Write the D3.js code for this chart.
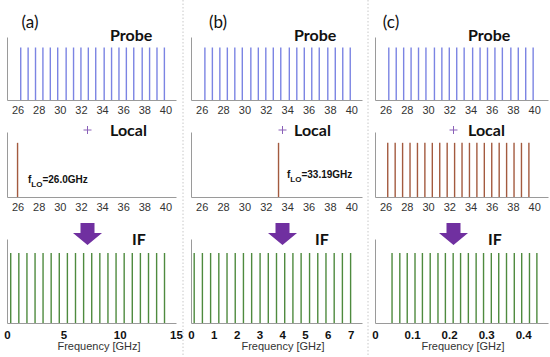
<!DOCTYPE html>
<html>
<head>
<meta charset="utf-8">
<script src="https://cdn.jsdelivr.net/npm/d3@7"></script>
<style>
  body { margin: 0; background: #fff; }
  svg { display: block; }
  .tick text { font-family: "Liberation Sans", Arial, sans-serif; }
</style>
</head>
<body>
<div id="chart"></div>
<script>
// tone frequencies (GHz)
const probeFreqs = [26.3, 27.0, 27.7, 28.4, 29.1, 29.8, 30.6, 31.3, 32.0, 32.7,
                    33.4, 34.2, 34.9, 35.6, 36.3, 37.0, 37.8, 38.5, 39.2, 39.9];
const localA = [26.0];
const localB = [33.19];
const localC = [26.2, 26.9, 27.6, 28.3, 29.0, 29.7, 30.4, 31.1, 31.8, 32.5,
                33.2, 33.9, 34.6, 35.3, 36.0, 36.7, 37.4, 38.1, 38.8, 39.5];
const ifA = [0.33, 1.05, 1.77, 2.49, 3.2, 3.92, 4.64, 5.36, 6.08, 6.8,
             7.52, 8.24, 8.96, 9.68, 10.4, 11.12, 11.84, 12.56, 13.28, 13.98];
const ifB = [0.14, 0.5, 0.86, 1.22, 1.58, 1.94, 2.3, 2.66, 3.03, 3.39,
             3.75, 4.11, 4.47, 4.83, 5.2, 5.56, 5.92, 6.28, 6.64, 7.0];
const ifC = [0.046, 0.067, 0.087, 0.108, 0.128, 0.149, 0.17, 0.19, 0.211, 0.231,
             0.252, 0.273, 0.293, 0.314, 0.334, 0.355, 0.376, 0.396, 0.417, 0.437];
const rfTicks = [26, 28, 30, 32, 34, 36, 38, 40];
const ifTicksA = [0, 5, 10, 15];
const ifTicksB = [0, 1, 2, 3, 4, 5, 6, 7];
const ifTicksC = [0, 0.1, 0.2, 0.3, 0.4];
const panelLabels = ["(a)", "(b)", "(c)"];
const loLabels = ["26.0GHz", "33.19GHz", null];

const width = 550, height = 357;
const probeColor = "#7b84e3", localColor = "#a35a3f", ifColor = "#4e8a3e";
const purple = "#7030a0";

var svg = d3.select("#chart").append("svg")
  .attr("width", width).attr("height", height);

// column geometry
var cols = [
  { x0: 7,   x1: 176, rf: [25, 41],   ifDom: [0, 15],    ifTicks: ifTicksA, ifData: ifA, local: localA, mid: 87.5,  letterX: 30 },
  { x0: 191, x1: 362, rf: [25, 41],   ifDom: [0, 7.5],   ifTicks: ifTicksB, ifData: ifB, local: localB, mid: 282.5, letterX: 218 },
  { x0: 375, x1: 548, rf: [25, 41.3], ifDom: [0, 0.467], ifTicks: ifTicksC, ifData: ifC, local: localC, mid: 453.5, letterX: 391 }
];

// rows: axis top / baseline
var rows = {
  probe: { top: 37, base: 100 },
  local: { top: 132, base: 197 },
  ifr:   { top: 239, base: 323 }
};

// dotted separators
[183, 368].forEach(function (sx) {
  svg.append("line")
    .attr("x1", sx).attr("x2", sx).attr("y1", 0).attr("y2", height)
    .attr("stroke", "#c8c8c8").attr("stroke-dasharray", "1.5,2");
});

function drawPlot(col, row, x, data, color, ticks, bold, fmt) {
  var y = d3.scaleLinear().domain([0, 1.2]).range([row.base, row.top]);
  var g = svg.append("g");

  var xAxis = g.append("g")
    .attr("transform", "translate(0," + row.base + ")")
    .call(d3.axisBottom(x).tickValues(ticks).tickSize(0).tickPadding(bold ? 8 : 6).tickFormat(fmt));
  xAxis.select(".domain").attr("stroke", "#9a9a9a");
  xAxis.selectAll("text")
    .attr("font-size", bold ? 11.5 : 11)
    .attr("font-weight", bold ? "bold" : "normal")
    .attr("fill", bold ? "#111" : "#333");

  var yAxis = g.append("g")
    .attr("transform", "translate(" + col.x0 + ",0)")
    .call(d3.axisLeft(y).tickValues([]).tickSizeOuter(0));
  yAxis.select(".domain").attr("stroke", "#9a9a9a");

  g.selectAll("line.tone")
    .data(data)
    .enter()
    .append("line")
    .attr("class", "tone")
    .attr("x1", function (d) { return x(d); })
    .attr("x2", function (d) { return x(d); })
    .attr("y1", y(0))
    .attr("y2", y(1))
    .attr("stroke", color)
    .attr("stroke-width", 1.4);
}

function boldLabel(txt, x, yb) {
  svg.append("text")
    .attr("x", x).attr("y", yb)
    .attr("font-family", "Lato, 'Open Sans', sans-serif")
    .attr("font-weight", "bold")
    .attr("font-size", 16)
    .attr("fill", "#111")
    .text(txt);
}

cols.forEach(function (col, i) {
  var rfX = d3.scaleLinear().domain(col.rf).range([col.x0, col.x1]);
  var ifX = d3.scaleLinear().domain(col.ifDom).range([col.x0, col.x1]);

  drawPlot(col, rows.probe, rfX, probeFreqs, probeColor, rfTicks, false, d3.format("d"));
  drawPlot(col, rows.local, rfX, col.local, localColor, rfTicks, false, d3.format("d"));
  drawPlot(col, rows.ifr, ifX, col.ifData, ifColor, col.ifTicks, true,
           i === 2 ? d3.format(".1~f") : d3.format("d"));

  // panel letter
  svg.append("text")
    .attr("x", col.letterX)
    .attr("y", 28)
    .attr("text-anchor", "middle")
    .attr("font-family", "Lato, 'Open Sans', sans-serif")
    .attr("font-size", 17)
    .attr("fill", "#111")
    .text(panelLabels[i]);

  var lx = col.x0 + (i === 2 ? 93 : 103);
  boldLabel("Probe", lx, 41);
  boldLabel("Local", lx, 136);
  boldLabel("IF", lx + (i === 2 ? 20 : 22) + (i === 1 ? -1 : 0), 245);

  // small plus sign between Probe and Local
  var px = col.mid, py = 130;
  svg.append("path")
    .attr("d", "M" + (px - 4) + "," + py + "H" + (px + 4) + "M" + px + "," + (py - 4) + "V" + (py + 4))
    .attr("stroke", "#8a60b8").attr("stroke-width", 1);

  // down arrow into IF
  var ax = col.mid, at = 223;
  svg.append("path")
    .attr("d", "M" + (ax - 7) + "," + at + "H" + (ax + 7) + "V" + (at + 10) +
               "H" + (ax + 14.5) + "L" + ax + "," + (at + 22) + "L" + (ax - 14.5) + "," + (at + 10) +
               "H" + (ax - 7) + "Z")
    .attr("fill", purple);

  // f_LO annotation
  if (loLabels[i]) {
    var fx = i === 0 ? 28 : 287, fy = i === 0 ? 183 : 178;
    var t = svg.append("text")
      .attr("x", fx).attr("y", fy)
      .attr("font-family", "'Liberation Sans', Arial, sans-serif")
      .attr("font-weight", "bold")
      .attr("font-size", 10)
      .attr("fill", "#111");
    t.append("tspan").text("f");
    t.append("tspan").attr("dy", 4).attr("font-size", 8).text("LO");
    t.append("tspan").attr("dy", -4).text("=" + loLabels[i]);
  }

  // x axis title
  svg.append("text")
    .attr("x", [99, 283, 463][i])
    .attr("y", 350)
    .attr("text-anchor", "middle")
    .attr("font-family", "'Liberation Sans', Arial, sans-serif")
    .attr("font-size", 11)
    .attr("fill", "#333")
    .text("Frequency [GHz]");
});
</script>
</body>
</html>
